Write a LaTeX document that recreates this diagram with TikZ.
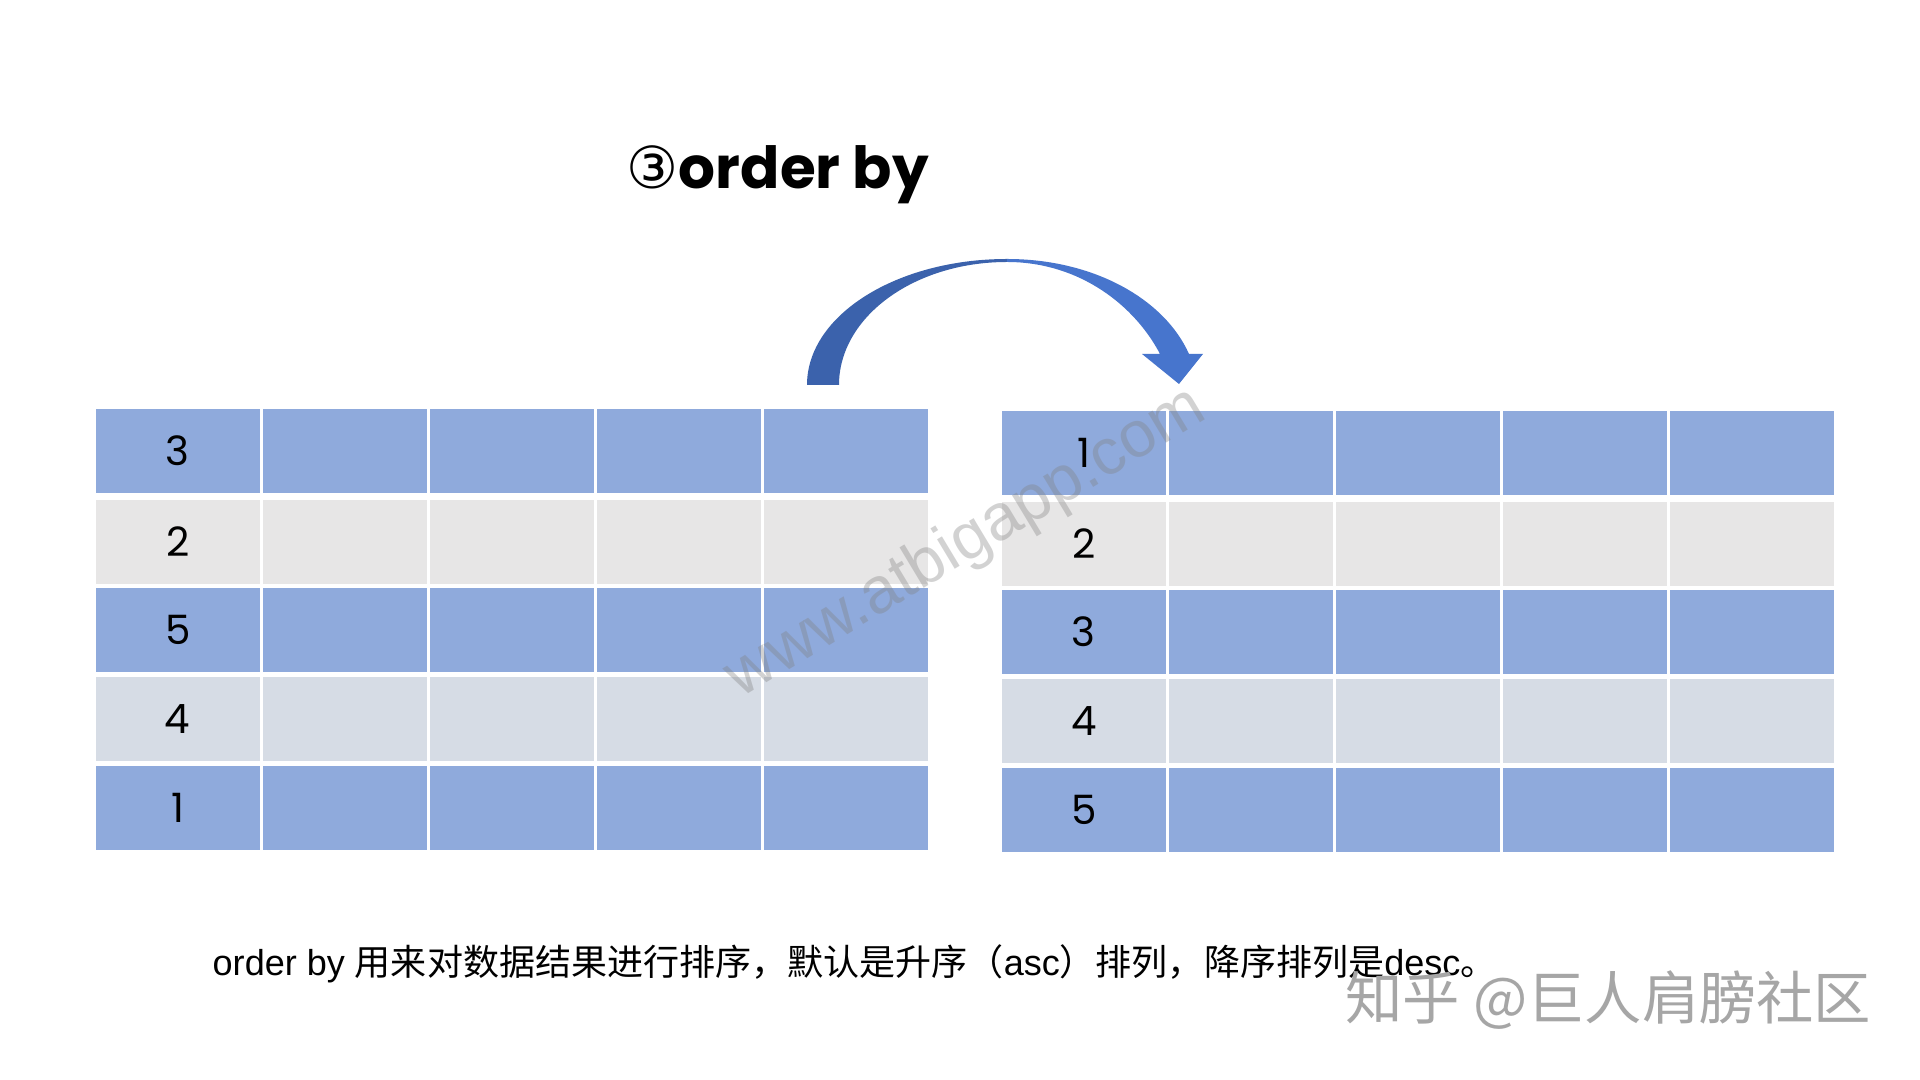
\documentclass[tikz,border=0pt]{standalone}
\usepackage{fontspec}
\setmainfont{Liberation Sans}
\newfontfamily\cjk{Noto Sans CJK SC}
\newfontfamily\handfont{Poppins}
\newfontfamily\symfont{DejaVu Sans}
\usetikzlibrary{positioning}
\definecolor{cellblue}{HTML}{8FAADC}
\definecolor{cellgray}{HTML}{E7E6E6}
\definecolor{cellslate}{HTML}{D6DCE5}
\definecolor{arrowdark}{HTML}{3B62AC}
\definecolor{arrowlight}{HTML}{4775CD}
\definecolor{markgray}{HTML}{A6A6A6}

\begin{document}
\begin{tikzpicture} [%
    x = 0.01cm,
    y = -0.01cm,
    cell/.style = {%
      rectangle,
      draw = none,
      inner sep = 0pt,
      minimum width = 1.643cm,
      minimum height = 0.84cm,
      font = \handfont\fontsize{11.5}{12}\selectfont },
    heading/.style = {%
      inner sep = 0pt,
      font = \handfont\bfseries\fontsize{16.5}{18}\selectfont },
    note/.style = {%
      inner sep = 0pt,
      font = \fontsize{10.25}{12}\selectfont },
    wmark/.style = {%
      inner sep = 0pt,
      text = gray,
      text opacity = 0.35,
      font = \fontsize{18.5}{20}\selectfont }
  ]

  \useasboundingbox [fill=white] (0,0) rectangle (1920,1080);

  % both tables: row / centre y / fill / left value / right value
  \foreach \r/\y/\clr/\a/\b in {1/451/cellblue/3/1, 2/542/cellgray/2/2,
      3/630/cellblue/5/3, 4/719/cellslate/4/4, 5/808/cellblue/1/5} {
    \node[cell, fill=\clr] (L\r1) at (177.7, \y) {\a};
    \node[cell, fill=\clr] (R\r1) at (1083.8, {\y+2}) {\b};
    \foreach \c in {2,...,5} {
      \node[cell, fill=\clr] (L\r\c) at ({177.7+(\c-1)*167}, \y) {};
      \node[cell, fill=\clr] (R\r\c) at ({1083.8+(\c-1)*167}, {\y+2}) {};
    }
  }

  \node[heading, anchor=base] (title) at (778, 189)
    {{\symfont\mdseries ③}order by};

  % curved arrow
  \coordinate (top) at (1007, 259);
  \fill[arrowdark] (807, 385) .. controls (807, 315) and (897, 259) .. (top)
    -- (1007, 262) .. controls (914, 262) and (839, 317) .. (839, 385) -- cycle;
  \fill[arrowlight] (top) .. controls (1095, 259) and (1165, 300) .. (1189, 354)
    -- (1203, 354) -- (1179, 384) -- (1142, 354) -- (1160, 354)
    .. controls (1135, 306) and (1080, 262) .. (1007, 262) -- cycle;

  \node[wmark, anchor=base, rotate=31] (site) at (975, 558) {www.atbigapp.com};

  \node[note, anchor=base west] (caption) at (212, 976)
    {order by {\cjk 用来对数据结果进行排序，默认是升序（}asc{\cjk ）排列，降序排列是}desc{\cjk 。}};

  \node[inner sep=0pt, anchor=base east, text=markgray,
    font=\cjk\fontsize{16.3}{17}\selectfont] (brand) at (1872, 1020) {知乎 @巨人肩膀社区};
\end{tikzpicture}
\end{document}
